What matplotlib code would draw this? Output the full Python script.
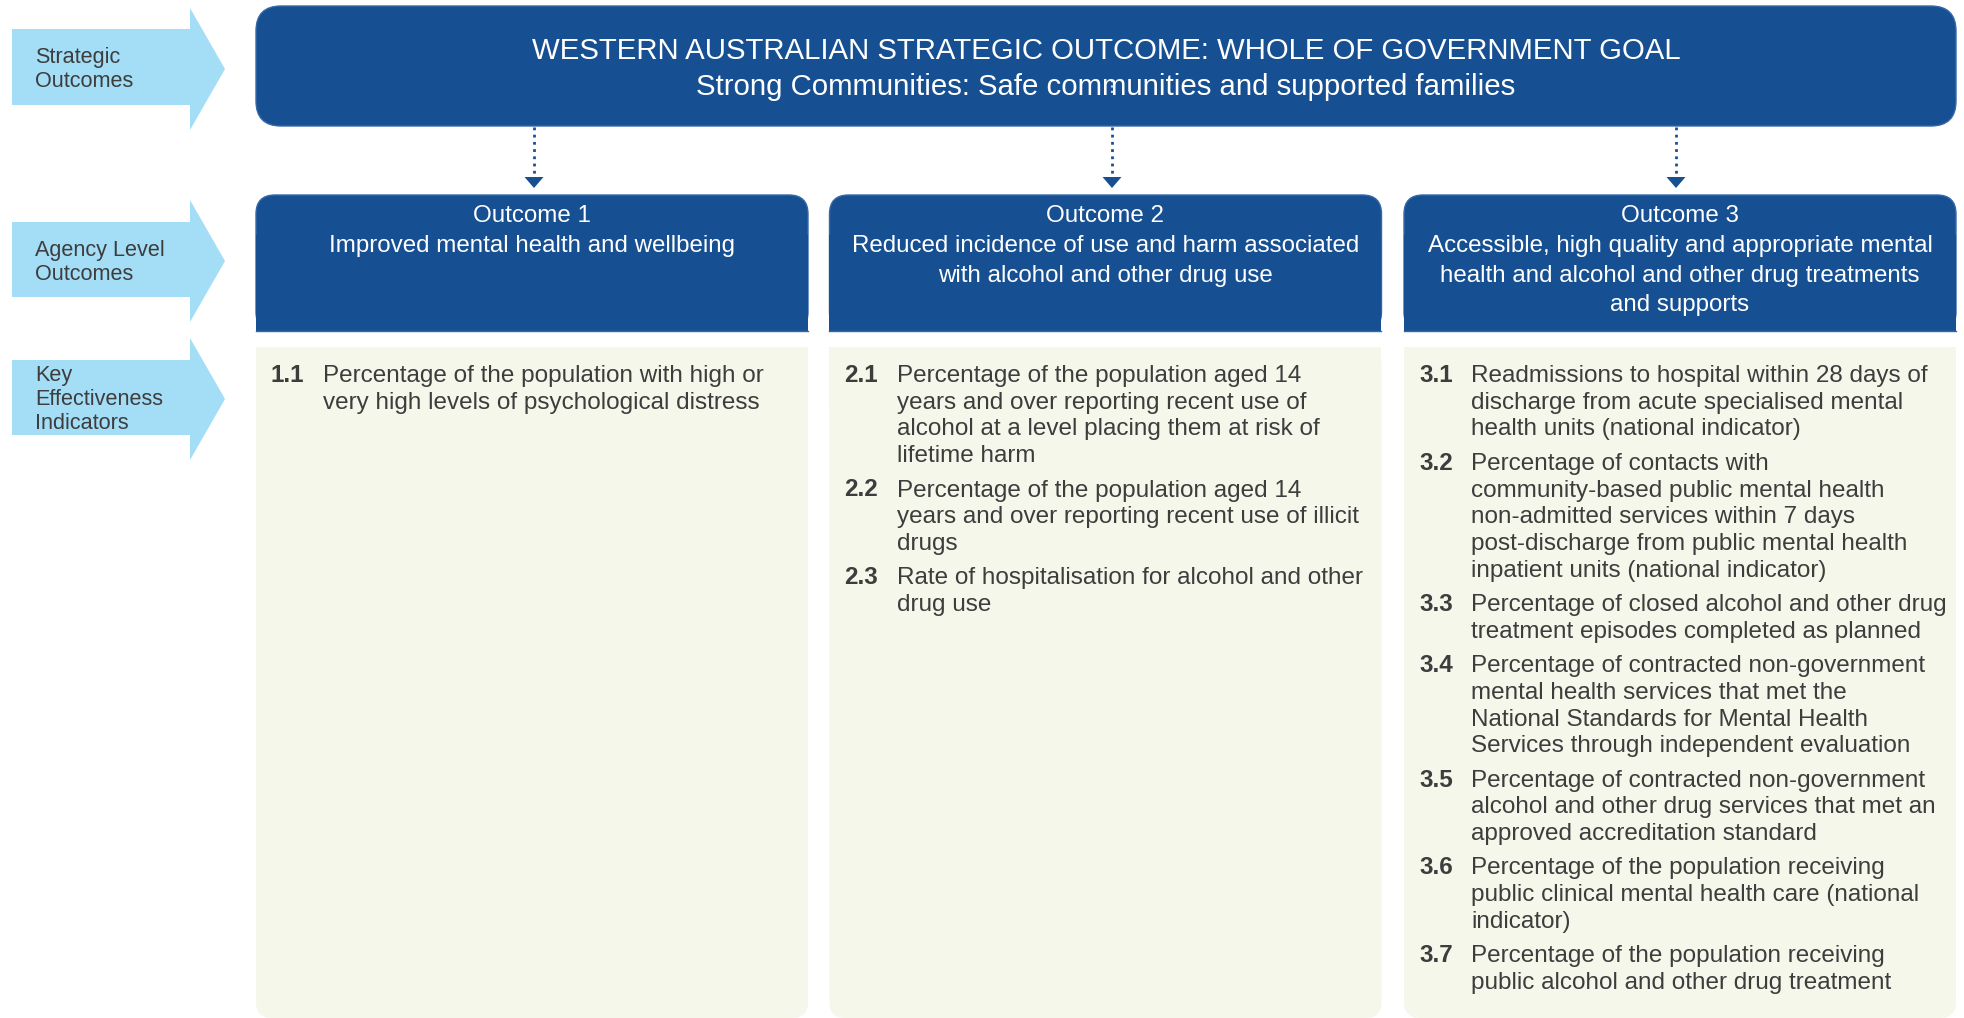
import matplotlib
matplotlib.use("Agg")
import matplotlib.pyplot as plt
from matplotlib.patches import FancyBboxPatch, Rectangle, Polygon

plt.rcParams['font.family'] = ['Liberation Sans', 'DejaVu Sans']

# ---------------- content ----------------
row_labels = ["Strategic\nOutcomes", "Agency Level\nOutcomes", "Key\nEffectiveness\nIndicators"]

goal_title = "WESTERN AUSTRALIAN STRATEGIC OUTCOME: WHOLE OF GOVERNMENT GOAL"
goal_subtitle = "Strong Communities: Safe communities and supported families"

outcome_names = ["Outcome 1", "Outcome 2", "Outcome 3"]
outcome_descs = [
    ["Improved mental health and wellbeing"],
    ["Reduced incidence of use and harm associated", "with alcohol and other drug use"],
    ["Accessible, high quality and appropriate mental",
     "health and alcohol and other drug treatments", "and supports"],
]

kei_numbers = [
    ["1.1"],
    ["2.1", "2.2", "2.3"],
    ["3.1", "3.2", "3.3", "3.4", "3.5", "3.6", "3.7"],
]
kei_texts = [
    [["Percentage of the population with high or",
      "very high levels of psychological distress"]],
    [["Percentage of the population aged 14",
      "years and over reporting recent use of",
      "alcohol at a level placing them at risk of",
      "lifetime harm"],
     ["Percentage of the population aged 14",
      "years and over reporting recent use of illicit",
      "drugs"],
     ["Rate of hospitalisation for alcohol and other",
      "drug use"]],
    [["Readmissions to hospital within 28 days of",
      "discharge from acute specialised mental",
      "health units (national indicator)"],
     ["Percentage of contacts with",
      "community-based public mental health",
      "non-admitted services within 7 days",
      "post-discharge from public mental health",
      "inpatient units (national indicator)"],
     ["Percentage of closed alcohol and other drug",
      "treatment episodes completed as planned"],
     ["Percentage of contracted non-government",
      "mental health services that met the",
      "National Standards for Mental Health",
      "Services through independent evaluation"],
     ["Percentage of contracted non-government",
      "alcohol and other drug services that met an",
      "approved accreditation standard"],
     ["Percentage of the population receiving",
      "public clinical mental health care (national",
      "indicator)"],
     ["Percentage of the population receiving",
      "public alcohol and other drug treatment"]],
]

# ---------------- styles ----------------
DARK = "#175092"
EDGE = "#3568a8"
LIGHT = "#a3ddf6"
PANEL = "#f4f7e9"
TXT = "#3d3d3d"

W, H = 1964, 1018
fig = plt.figure(figsize=(W / 100, H / 100), dpi=100)
ax = fig.add_axes([0, 0, 1, 1])
ax.set_xlim(0, W)
ax.set_ylim(H, 0)
ax.axis("off")

# ---------------- left arrows ----------------
arrow_geo = [(8, 29, 105, 130), (200, 222, 297, 322), (338, 360, 435, 460)]
label_y0 = [57, 250, 375.5]
for (ht, bt, bb, hb), lab, ly in zip(arrow_geo, row_labels, label_y0):
    tip = (ht + hb) / 2
    poly = Polygon([(12, bt), (190, bt), (190, ht), (225, tip), (190, hb),
                    (190, bb), (12, bb)], closed=True, fc=LIGHT, ec="none")
    ax.add_patch(poly)
    for i, line in enumerate(lab.split("\n")):
        ax.text(35, ly + i * 24, line, fontsize=15.6, color=TXT,
                ha="left", va="center")

# ---------------- top goal box ----------------
gx0, gx1, gy0, gy1 = 256, 1956, 6, 126
ax.add_patch(FancyBboxPatch((gx0 + 25, gy0 + 25), gx1 - gx0 - 50, gy1 - gy0 - 50,
                            boxstyle="round,pad=25", fc=DARK, ec=EDGE, lw=1))
gcx = (gx0 + gx1) / 2
ax.text(gcx, 59, goal_title, fontsize=21.2, color="white", ha="center", va="baseline")
ax.text(gcx, 95, goal_subtitle, fontsize=21.2, color="white", ha="center", va="baseline")

# ---------------- columns ----------------
col_x0 = [256, 829.5, 1404]
col_w = 552
hy0, hy1 = 195, 331
py0, py1 = 347, 1018
conn_x = [534, 1112, 1676]

for k in range(3):
    x0 = col_x0[k]
    x1 = x0 + col_w
    cx = (x0 + x1) / 2
    r = 19
    # header (rounded top, square bottom)
    ax.add_patch(FancyBboxPatch((x0 + r, hy0 + r), col_w - 2 * r, hy1 - hy0 - 2 * r,
                                boxstyle=f"round,pad={r}", fc=DARK, ec=EDGE, lw=1))
    ax.add_patch(Rectangle((x0, hy0 + 40), col_w, hy1 - hy0 - 40, fc=DARK, ec="none"))
    ax.plot([x0, x1], [hy1, hy1], color=EDGE, lw=1)
    hl = [outcome_names[k]] + outcome_descs[k]
    for i, line in enumerate(hl):
        ax.text(cx, 222 + i * 29.8, line, fontsize=17.4, color="white",
                ha="center", va="baseline")
    # panel (square top, rounded bottom)
    rp = 16
    ax.add_patch(FancyBboxPatch((x0 + rp, py0 + rp), col_w - 2 * rp, py1 - py0 - 2 * rp,
                                boxstyle=f"round,pad={rp}", fc=PANEL, ec="none"))
    ax.add_patch(Rectangle((x0, py0), col_w, 60, fc=PANEL, ec="none"))
    # indicators
    y = 382
    for num, lines in zip(kei_numbers[k], kei_texts[k]):
        ax.text(x0 + 15, y, num, fontsize=17.5, fontweight="bold", color=TXT,
                ha="left", va="baseline")
        for j, line in enumerate(lines):
            ax.text(x0 + 67.5, y + j * 26.7, line, fontsize=17.5, color=TXT,
                    ha="left", va="baseline")
        y += len(lines) * 26.7 + 7.7
    # dotted connector with arrowhead
    xc = conn_x[k]
    ax.plot([xc, xc], [gy1 + 1, 177], color=DARK, lw=2, linestyle=(0, (1, 1.6)),
            solid_capstyle="butt")
    ax.add_patch(Polygon([(xc - 9.5, 177), (xc + 9.5, 177), (xc, 188)], closed=True,
                         fc=DARK, ec="none"))

# small dotted artefact crossing the subtitle
ax.plot([1112, 1112], [80, 93], color="#d0dcec", lw=1.5, linestyle=(0, (1, 1.6)))

fig.savefig("out.png", dpi=100, facecolor="white")
